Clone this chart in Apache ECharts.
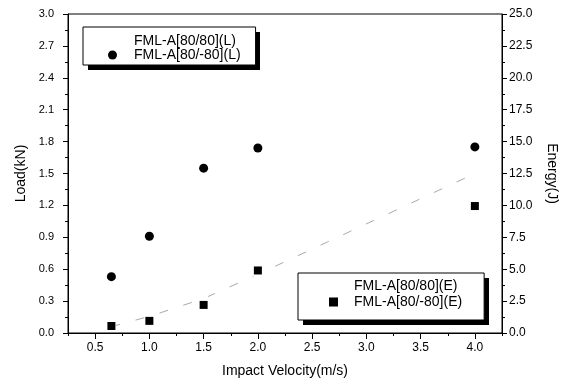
<!DOCTYPE html>
<html>
<head>
<meta charset="utf-8">
<script src="https://cdn.jsdelivr.net/npm/echarts@6/dist/echarts.min.js"></script>
<style>html,body{margin:0;padding:0;background:#fff}#c{width:576px;height:386px}</style>
</head>
<body>
<div id="c"></div>
<script>
var velocity = [0.65, 1.0, 1.5, 2.0, 4.0];
var load8080 = [0.49, 0.85, null, 1.20, null];
var load80m80 = [0.53, 0.91, 1.55, 1.74, 1.75];
var energy8080 = [0.5, 1.3, 2.7, 4.6, 12.5];
var energy80m80 = [0.55, 0.95, 2.2, 4.9, 9.95];
var xLabels = [0.5, 1.0, 1.5, 2.0, 2.5, 3.0, 3.5, 4.0];

function pairs(xs, ys) {
  var out = [];
  for (var i = 0; i < xs.length; i++) if (ys[i] !== null) out.push([xs[i], ys[i]]);
  return out;
}
var FONT = 'Liberation Sans';
var chart = echarts.init(document.getElementById('c'), null, {renderer: 'canvas'});
var legendBase = {
  orient: 'vertical',
  backgroundColor: '#fff',
  borderColor: '#000',
  borderWidth: 1,
  borderRadius: 0,
  itemWidth: 9,
  itemHeight: 9,
  z: 10,
  selectedMode: false
};
chart.setOption({
  animation: false,
  backgroundColor: '#fff',
  textStyle: {fontFamily: FONT},
  grid: {left: 68, right: 74, top: 14, bottom: 53, show: true, borderColor: '#000', borderWidth: 1, backgroundColor: 'transparent'},
  graphic: [
    {type: 'rect', left: 88, top: 32, z: 9, shape: {width: 172, height: 38}, style: {fill: '#000'}},
    {type: 'rect', left: 303, top: 278, z: 9, shape: {width: 186, height: 47}, style: {fill: '#000'}}
  ],
  legend: [
    Object.assign({}, legendBase, {
      left: 83, top: 27, padding: [7, 15, 3, 24], itemGap: 0,
      textStyle: {fontFamily: FONT, fontSize: 14, color: '#000', lineHeight: 14, padding: [0, 0, 0, 12]},
      data: [
        {name: 'FML-A[80/80](L)', icon: 'emptyCircle', itemStyle: {color: '#fff', borderColor: '#bbb', borderWidth: 1}},
        {name: 'FML-A[80/-80](L)', icon: 'circle', itemStyle: {color: '#000', opacity: 1}}
      ]
    }),
    Object.assign({}, legendBase, {
      left: 298, top: 273, padding: [6, 22, 11, 30], itemGap: 2,
      textStyle: {fontFamily: FONT, fontSize: 14, color: '#000', lineHeight: 14, padding: [0, 0, 0, 11]},
      data: [
        {name: 'FML-A[80/80](E)', icon: 'emptyRect', itemStyle: {color: '#fff', borderColor: '#eee', borderWidth: 1}},
        {name: 'FML-A[80/-80](E)', icon: 'rect', itemStyle: {color: '#000', opacity: 1}}
      ]
    })
  ],
  xAxis: [{
    type: 'value', min: 0.25, max: 4.25, interval: 0.25,
    name: 'Impact Velocity(m/s)', nameLocation: 'middle', nameGap: 31,
    nameTextStyle: {fontFamily: FONT, fontSize: 14, color: '#000'},
    axisLine: {show: true, lineStyle: {color: '#000', width: 1}},
    axisTick: {show: true, length: 3, inside: false, lineStyle: {color: '#000'}},
    axisLabel: {customValues: xLabels, fontFamily: FONT, fontSize: 12, color: '#000', margin: 9,
      formatter: function (v) { return v.toFixed(1); }},
    splitLine: {show: false}
  }, {
    type: 'value', min: 0.25, max: 4.25, position: 'bottom', gridIndex: 0,
    axisLine: {show: false},
    axisTick: {show: true, customValues: xLabels, length: 6, lineStyle: {color: '#000'}},
    axisLabel: {show: false},
    splitLine: {show: false}
  }],
  yAxis: [{
    type: 'value', min: 0, max: 3.0, interval: 0.3, position: 'left',
    name: 'Load(kN)', nameLocation: 'middle', nameGap: 36, nameRotate: 90,
    nameTextStyle: {fontFamily: FONT, fontSize: 14, color: '#000'},
    axisLine: {show: true, lineStyle: {color: '#000'}},
    axisTick: {show: true, length: 5, lineStyle: {color: '#000'}},
    minorTick: {show: true, splitNumber: 2, length: 3, lineStyle: {color: '#000'}},
    axisLabel: {fontFamily: FONT, fontSize: 11, color: '#000', margin: 14,
      formatter: function (v) { return v.toFixed(1); }},
    splitLine: {show: false}
  }, {
    type: 'value', min: 0, max: 25, interval: 2.5, position: 'right',
    name: 'Energy(J)', nameLocation: 'middle', nameGap: 43, nameRotate: -90,
    nameTextStyle: {fontFamily: FONT, fontSize: 14, color: '#000'},
    axisLine: {show: true, lineStyle: {color: '#000'}},
    axisTick: {show: true, length: 5, lineStyle: {color: '#000'}},
    minorTick: {show: true, splitNumber: 2, length: 3, lineStyle: {color: '#000'}},
    axisLabel: {fontFamily: FONT, fontSize: 12, color: '#000', margin: 7,
      formatter: function (v) { return v.toFixed(1); }},
    splitLine: {show: false}
  }],
  series: [
    {name: 'FML-A[80/80](L)', type: 'scatter', xAxisIndex: 0, yAxisIndex: 0,
      symbol: 'emptyCircle', symbolSize: 8,
      itemStyle: {color: '#fff', borderColor: '#ccc', borderWidth: 1, opacity: 1},
      data: pairs(velocity, load8080)},
    {name: 'FML-A[80/-80](L)', type: 'scatter', xAxisIndex: 0, yAxisIndex: 0,
      symbol: 'circle', symbolSize: 9, itemStyle: {color: '#000', opacity: 1}, z: 5,
      data: pairs(velocity, load80m80)},
    {name: 'FML-A[80/80](E)', type: 'line', xAxisIndex: 0, yAxisIndex: 1,
      symbol: 'emptyRect', symbolSize: 7, showSymbol: true,
      itemStyle: {color: '#fff', borderColor: '#eee', borderWidth: 1},
      lineStyle: {color: '#aaa', width: 1, type: [9, 16]},
      data: pairs(velocity, energy8080)},
    {name: 'FML-A[80/-80](E)', type: 'scatter', xAxisIndex: 0, yAxisIndex: 1,
      symbol: 'rect', symbolSize: 8, itemStyle: {color: '#000', opacity: 1}, z: 5,
      data: pairs(velocity, energy80m80)}
  ]
});
</script>
</body>
</html>
